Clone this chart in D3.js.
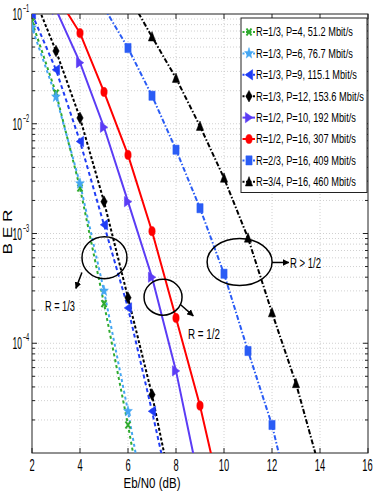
<!DOCTYPE html>
<html><head><meta charset="utf-8">
<script src="https://cdn.jsdelivr.net/npm/d3@7"></script>
<style>
body{margin:0;background:#fff}
svg{display:block}
text{font-family:"Liberation Sans",Arial,Helvetica,sans-serif;fill:#000}
</style>
</head><body>
<svg id="chart" width="374" height="498"></svg>
<script>
// ---------- data ----------
const seriesLabels = [
  "R=1/3, P=4, 51.2 Mbit/s",
  "R=1/3, P=6, 76.7 Mbit/s",
  "R=1/3, P=9, 115.1 Mbit/s",
  "R=1/3, P=12, 153.6 Mbit/s",
  "R=1/2, P=10, 192 Mbit/s",
  "R=1/2, P=16, 307 Mbit/s",
  "R=2/3, P=16, 409 Mbit/s",
  "R=3/4, P=16, 460 Mbit/s"
];
const snrP4  = [2, 3, 4, 5, 6, 7];
const berP4  = [0.085, 0.019, 2.6e-3, 2.3e-4, 1.8e-5, 1.1e-6];
const snrP6  = [2, 3, 4, 5, 6, 7];
const berP6  = [0.075, 0.0176, 2.85e-3, 3.0e-4, 2.4e-5, 1.5e-6];
const snrP9  = [2, 3, 4, 5, 6, 7, 8];
const berP9  = [0.1, 0.031, 6.9e-3, 1.2e-3, 2.1e-4, 2.4e-5, 2.5e-6];
const snrP12 = [2, 3, 4, 5, 6, 7, 8];
const berP12 = [0.16, 0.046, 0.0113, 1.95e-3, 2.6e-4, 3.4e-5, 3e-6];
const snrP10 = [3, 4, 5, 6, 7, 8, 9];
const berP10 = [0.11, 0.036, 9.3e-3, 1.95e-3, 4e-4, 5.6e-5, 5e-6];
const snrP16a = [3, 4, 5, 6, 7, 8, 9, 10];
const berP16a = [0.15, 0.067, 0.0195, 5.2e-3, 1.05e-3, 1.7e-4, 2.7e-5, 3e-6];
const snrP16b = [5, 6, 7, 8, 9, 10, 11, 12, 13];
const berP16b = [0.115, 0.049, 0.018, 5.8e-3, 1.7e-3, 4.3e-4, 8.5e-5, 1.8e-5, 2.2e-6];
const snrP16c = [6, 7, 8, 9, 10, 11, 12, 13, 14];
const berP16c = [0.15, 0.062, 0.026, 9.5e-3, 3.2e-3, 9.1e-4, 1.9e-4, 4.3e-5, 7e-6];

const xTickValues = [2, 4, 6, 8, 10, 12, 14, 16];
const yDecadeExps = [-1, -2, -3, -4];

const annoTexts = ["R = 1/3", "R = 1/2", "R > 1/2"];

// ---------- styles ----------
const styles = [
  {color:"#2faa2f", dash:"3,3", marker:"x"},
  {color:"#45a6f2", dash:"3,3", marker:"star", offset:3},
  {color:"#1f3cf5", dash:"4,3", marker:"tleft"},
  {color:"#000000", dash:"3,2", marker:"diamond"},
  {color:"#5b3cf5", dash:null, marker:"tright"},
  {color:"#ff0000", dash:null, marker:"circle"},
  {color:"#2a5cf5", dash:"5,2,1.5,2", marker:"square"},
  {color:"#000000", dash:"5,2,1.5,2", marker:"tup"}
];
const legendLens = [97, 97, 101, 108, 100, 100, 100, 100];
const seriesData = [
  [snrP4, berP4], [snrP6, berP6], [snrP9, berP9], [snrP12, berP12],
  [snrP10, berP10], [snrP16a, berP16a], [snrP16b, berP16b], [snrP16c, berP16c]
].map((d, i) => ({label: seriesLabels[i], pts: d[0].map((s, j) => ({x: s, y: d[1][j]})), style: styles[i]}));

// ---------- layout ----------
const L = 32, R = 368, T = 14, B = 453;
const svg = d3.select("#chart");
const x = d3.scaleLinear().domain([2, 16]).range([L, R]);
const y = d3.scaleLog().domain([1e-5, 1e-1]).range([B, T]);

// text squeezed horizontally to a target width (the figure is narrow)
function txt(g, s, px, py, size, len, anchor) {
  const gg = g.append("g");
  const t = gg.append("text").attr("x", 0).attr("y", 0)
    .attr("font-size", size).attr("text-anchor", anchor || "start").text(s);
  const w = t.node().getComputedTextLength();
  const sx = len ? len / w : 1;
  gg.attr("transform", `translate(${px},${py}) scale(${sx},1)`);
  return t;
}

// grid
const grid = svg.append("g").attr("stroke", "#c4c4c4").attr("stroke-width", 0.8).attr("stroke-dasharray", "1,2");
xTickValues.slice(1, -1).forEach(v => grid.append("line").attr("x1", x(v)).attr("x2", x(v)).attr("y1", T).attr("y2", B));
const yGridVals = [];
for (let e = -5; e <= -2; e++) for (let m = 1; m <= 9; m++) {
  const v = m * Math.pow(10, e);
  if (v > 1e-5) yGridVals.push(v);
}
yGridVals.forEach(v => grid.append("line").attr("x1", L).attr("x2", R).attr("y1", y(v)).attr("y2", y(v)));

// axis box & ticks
const ax = svg.append("g").attr("stroke", "#222").attr("fill", "none");
ax.append("rect").attr("x", L).attr("y", T).attr("width", R - L).attr("height", B - T).attr("stroke-width", 1);
xTickValues.forEach(v => {
  ax.append("line").attr("x1", x(v)).attr("x2", x(v)).attr("y1", B).attr("y2", B - 5);
  ax.append("line").attr("x1", x(v)).attr("x2", x(v)).attr("y1", T).attr("y2", T + 5);
});
yGridVals.forEach(v => {
  const major = Math.abs(Math.log10(v) - Math.round(Math.log10(v))) < 1e-6;
  const len = major ? 5 : 3;
  ax.append("line").attr("x1", L).attr("x2", L + len).attr("y1", y(v)).attr("y2", y(v));
  ax.append("line").attr("x1", R).attr("x2", R - len).attr("y1", y(v)).attr("y2", y(v));
});

// tick labels
const lab = svg.append("g");
xTickValues.forEach(v => {
  const n = String(v).length;
  const px = v === 16 ? x(v) - 0.5 : x(v);
  txt(lab, String(v), px, 471, 17, n * 5.2, "middle");
});
yDecadeExps.forEach(e => {
  const py = y(Math.pow(10, e));
  txt(lab, "10", 22, py + 6, 17, 9.5, "end");
  txt(lab, "\u2212" + (-e), 22.8, py - 2, 10.5, 6.5, "start");
});
txt(lab, "Eb/N0 (dB)", x(7), 488, 15, 57, "middle");
lab.append("text").attr("transform", "translate(11.5,232) rotate(-90)")
  .attr("font-size", 13).attr("text-anchor", "middle")
  .attr("textLength", 45).attr("lengthAdjust", "spacingAndGlyphs").text("B E R");

// markers
function markerPath(type) {
  switch (type) {
    case "circle": return "M-3.2,0A3.2,4.6 0 1,0 3.2,0A3.2,4.6 0 1,0 -3.2,0Z";
    case "square": return "M-3.1,-4.6H3.1V4.6H-3.1Z";
    case "tup": return "M0,-5.2L3.6,4.2L-3.6,4.2Z";
    case "tleft": return "M-3.8,0L3.6,-5.2L3.6,5.2Z";
    case "tright": return "M3.8,0L-3.6,-5.2L-3.6,5.2Z";
    case "diamond": return "M0,-5.8L3.2,0L0,5.8L-3.2,0Z";
    case "star": {
      let p = "";
      for (let k = 0; k < 10; k++) {
        const r = k % 2 === 0 ? 5.8 : 2.4;
        const a = -Math.PI / 2 + k * Math.PI / 5;
        p += (k ? "L" : "M") + (Math.cos(a) * r * 0.8).toFixed(2) + "," + (Math.sin(a) * r).toFixed(2);
      }
      return p + "Z";
    }
    case "x": return "M-2.5,-3.5L2.5,3.5M-2.5,3.5L2.5,-3.5";
  }
}
function drawMarker(g, type, color, px, py) {
  const p = g.append("path").attr("d", markerPath(type)).attr("transform", `translate(${px},${py})`);
  if (type === "x") p.attr("fill", "none").attr("stroke", color).attr("stroke-width", 2);
  else p.attr("fill", color).attr("stroke", color).attr("stroke-width", 0.5);
}

// series
const defs = svg.append("defs");
defs.append("clipPath").attr("id", "plotclip")
  .append("rect").attr("x", L).attr("y", T).attr("width", R - L).attr("height", B - T);
const plot = svg.append("g").attr("clip-path", "url(#plotclip)");
const line = d3.line().x(d => x(d.x)).y(d => y(d.y));
seriesData.forEach(s => {
  const st = s.style;
  const pth = plot.append("path").datum(s.pts).attr("d", line)
    .attr("fill", "none").attr("stroke", st.color).attr("stroke-width", 2);
  if (st.dash) pth.attr("stroke-dasharray", st.dash);
  if (st.offset) pth.attr("stroke-dashoffset", st.offset);
});
seriesData.forEach(s => {
  s.pts.forEach(d => drawMarker(plot, s.style.marker, s.style.color, x(d.x), y(d.y)));
});

// annotations
const anno = svg.append("g");
defs.append("marker").attr("id", "ah").attr("viewBox", "0 0 10 10").attr("refX", 9).attr("refY", 5)
  .attr("markerWidth", 4.5).attr("markerHeight", 4.5).attr("orient", "auto")
  .append("path").attr("d", "M0,0L10,5L0,10Z").attr("fill", "#000");
const ellipses = [
  {cx: 5.02, cy: Math.pow(10, -3.22), rx: 22.5, ry: 21},
  {cx: 7.46, cy: Math.pow(10, -3.58), rx: 19, ry: 18},
  {cx: 10.65, cy: Math.pow(10, -3.26), rx: 32.5, ry: 23.5}
];
ellipses.forEach(e => anno.append("ellipse").attr("cx", x(e.cx)).attr("cy", y(e.cy))
  .attr("rx", e.rx).attr("ry", e.ry).attr("fill", "none").attr("stroke", "#000").attr("stroke-width", 1.5));
const arrows = [
  {x1: 4.08, y1: Math.pow(10, -3.355), x2: 3.83, y2: Math.pow(10, -3.5)},
  {x1: 8.17, y1: Math.pow(10, -3.645), x2: 8.72, y2: Math.pow(10, -3.75)},
  {x1: 12.0, y1: Math.pow(10, -3.264), x2: 12.7, y2: Math.pow(10, -3.264)}
];
arrows.forEach(a => anno.append("line").attr("x1", x(a.x1)).attr("y1", y(a.y1))
  .attr("x2", x(a.x2)).attr("y2", y(a.y2)).attr("stroke", "#000").attr("stroke-width", 1.5)
  .attr("marker-end", "url(#ah)"));
const annoPos = [
  {x: 2.54, y: Math.pow(10, -3.71), len: 30},
  {x: 8.5, y: Math.pow(10, -3.96), len: 32},
  {x: 12.75, y: Math.pow(10, -3.31), len: 31}
];
annoTexts.forEach((t, i) => txt(anno, t, x(annoPos[i].x), y(annoPos[i].y), 15, annoPos[i].len, "start"));

// legend
const lg = svg.append("g");
lg.append("rect").attr("x", 241).attr("y", 18).attr("width", 126).attr("height", 174.5)
  .attr("fill", "#fff").attr("stroke", "#222").attr("stroke-width", 1);
seriesData.forEach((s, i) => {
  const cy = 32 + i * 21.4;
  const st = s.style;
  const l = lg.append("line").attr("x1", 242.5).attr("x2", 255).attr("y1", cy).attr("y2", cy)
    .attr("stroke", st.color).attr("stroke-width", 2);
  if (st.dash) l.attr("stroke-dasharray", "2,1.5");
  drawMarker(lg, st.marker, st.color, 249, cy);
  txt(lg, s.label, 256, cy + 4.3, 12, legendLens[i], "start");
});
</script>
</body></html>
